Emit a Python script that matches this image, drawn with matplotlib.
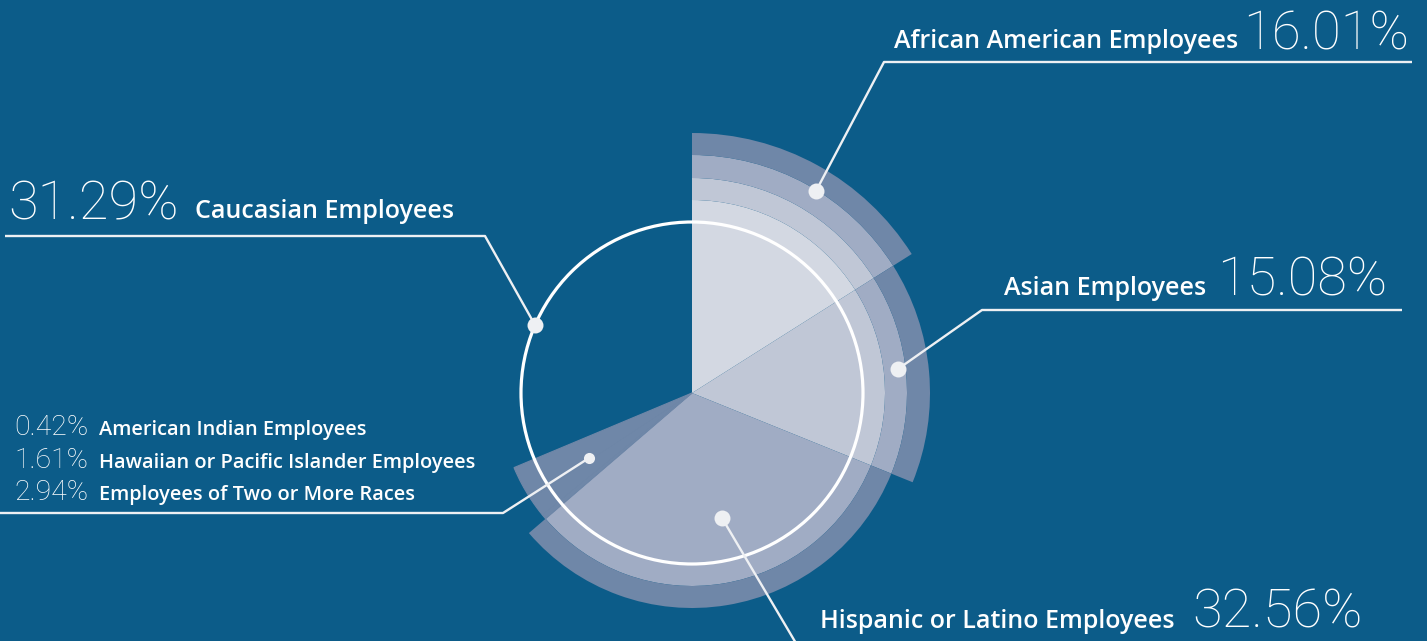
import matplotlib.pyplot as plt

# slices, clockwise from 12 o'clock
groups = ["African American Employees", "Asian Employees",
          "Hispanic or Latino Employees", "American Indian Employees",
          "Hawaiian or Pacific Islander Employees",
          "Employees of Two or More Races", "Caucasian Employees"]
shares = [16.01, 15.08, 32.56, 0.42, 1.61, 2.94, 31.29]
pct_labels = ["16.01%", "15.08%", "32.56%", "0.42%", "1.61%", "2.94%", "31.29%"]
# number of stacked translucent layers over each slice
layers = [4, 3, 2, 1, 1, 1, 0]

W, H = 1427, 641
bg = "#0C5C89"
ring_edges = [0, 193, 215, 238, 260]
layer_colors = {1: "#6F87A8", 2: "#A0ACC4", 3: "#C0C7D6", 4: "#D3D8E2"}
cx, cy = 692, H - 393

fig = plt.figure(figsize=(W / 100, H / 100), dpi=100, facecolor=bg)
ax = fig.add_axes([0, 0, 1, 1])
ax.set_facecolor(bg)

for j in range(len(ring_edges) - 1):
    cols = [layer_colors[n - j] if n > j else "none" for n in layers]
    r_out = ring_edges[j + 1]
    wedges, _ = ax.pie(shares, radius=r_out, colors=cols, startangle=90,
                       counterclock=False, center=(cx, cy),
                       wedgeprops=dict(width=r_out - ring_edges[j], linewidth=0))
    # the three small groups share one colour, hide the seams between them
    for w, c in zip(wedges[3:6], cols[3:6]):
        if c != "none":
            w.set_edgecolor(c)
            w.set_linewidth(0.8)

ax.add_patch(plt.Circle((cx, cy), 171, fill=False, ec="white", lw=2.3, zorder=3))

ax.set_xlim(0, W)
ax.set_ylim(0, H)
ax.set_aspect("equal")
ax.axis("off")

line_kw = dict(color="#EEF0F3", lw=1.7, solid_capstyle="butt", zorder=4)
num_font = dict(family="Roboto", weight="light", color="white")
lab_font = dict(family="Open Sans", weight="semibold", color="white")
big, lab = 39, 18


def leader(pts, dot=11.5):
    xs = [p[0] for p in pts]
    ys = [H - p[1] for p in pts]
    ax.plot(xs, ys, **line_kw)
    ax.plot(xs[0], ys[0], "o", ms=dot, color="#EEF0F3", mec="none", zorder=5)


# African American
leader([(816, 191), (884, 62), (1412, 62)])
ax.text(1238, H - 48, groups[0], ha="right", va="baseline", fontsize=lab, **lab_font)
ax.text(1243, H - 50, pct_labels[0], ha="left", va="baseline", fontsize=38, **num_font)

# Asian
leader([(898, 369), (982, 310), (1402, 310)])
ax.text(1206, H - 295, groups[1], ha="right", va="baseline", fontsize=lab, **lab_font)
ax.text(1217, H - 296, pct_labels[1], ha="left", va="baseline", fontsize=big, **num_font)

# Hispanic
leader([(722, 518), (800, 650)])
ax.text(1175, H - 628, groups[2], ha="right", va="baseline", fontsize=lab, **lab_font)
ax.text(1192, H - 627, pct_labels[2], ha="left", va="baseline", fontsize=big, **num_font)

# Caucasian
leader([(535, 325), (485, 236), (5, 236)])
ax.text(8, H - 220, pct_labels[6], ha="left", va="baseline", fontsize=big, **num_font)
ax.text(195, H - 218, groups[6], ha="left", va="baseline", fontsize=lab, **lab_font)

# small groups
leader([(589, 458), (503, 513), (0, 513)], dot=8)
for k, base in zip([3, 4, 5], [435, 468, 500]):
    ax.text(88, H - base, pct_labels[k], ha="right", va="baseline", fontsize=20.5, **num_font)
    ax.text(99, H - base, groups[k], ha="left", va="baseline", fontsize=14.4, **lab_font)

fig.savefig("out.png", dpi=100, facecolor=bg)
